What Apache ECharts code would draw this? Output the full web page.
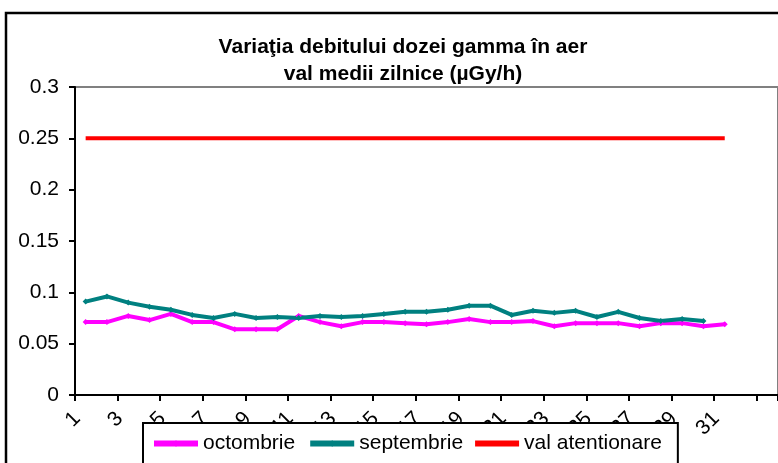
<!DOCTYPE html>
<html>
<head>
<meta charset="utf-8">
<script src="https://cdn.jsdelivr.net/npm/echarts@6/dist/echarts.min.js"></script>
<style>
	html, body { margin: 0; padding: 0; background: #fff; }
	#chart { width: 778px; height: 463px; }
</style>
</head>
<body>
<div id="chart"></div>
<script>
// zilele lunii (ultimele doua categorii sunt goale, ca in original)
var days = ['1', '2', '3', '4', '5', '6', '7', '8', '9', '10', '11', '12', '13', '14', '15', '16',
	'17', '18', '19', '20', '21', '22', '23', '24', '25', '26', '27', '28', '29', '30', '31', '', ''];

var octombrie = [0.071, 0.071, 0.077, 0.073, 0.079, 0.071, 0.071, 0.064, 0.064, 0.064,
	0.077, 0.071, 0.067, 0.071, 0.071, 0.070, 0.069, 0.071, 0.074, 0.071,
	0.071, 0.072, 0.067, 0.070, 0.070, 0.070, 0.067, 0.070, 0.070, 0.067, 0.069];

var septembrie = [0.091, 0.096, 0.090, 0.086, 0.083, 0.078, 0.075, 0.079, 0.075, 0.076,
	0.075, 0.077, 0.076, 0.077, 0.079, 0.081, 0.081, 0.083, 0.087, 0.087,
	0.078, 0.082, 0.080, 0.082, 0.076, 0.081, 0.075, 0.072, 0.074, 0.072];

var valAtentionare = [0.25, 0.25, 0.25, 0.25, 0.25, 0.25, 0.25, 0.25, 0.25, 0.25,
	0.25, 0.25, 0.25, 0.25, 0.25, 0.25, 0.25, 0.25, 0.25, 0.25,
	0.25, 0.25, 0.25, 0.25, 0.25, 0.25, 0.25, 0.25, 0.25, 0.25, 0.25];

var font = '"Liberation Sans", Arial, sans-serif';

var chart = echarts.init(document.getElementById('chart'));

var option = {
	animation: false,
	backgroundColor: '#fff',
	textStyle: { fontFamily: font },
	title: {
		text: 'Variaţia debitului dozei gamma în aer\nval medii zilnice (µGy/h)',
		left: 398,
		textAlign: 'center',
		top: 29,
		textStyle: {
			fontFamily: font,
			fontSize: 21,
			fontWeight: 'bold',
			color: '#000',
			lineHeight: 27
		}
	},
	graphic: [
		{
			type: 'rect',
			z: -10,
			shape: { x: 6, y: 13, width: 820, height: 520 },
			style: { fill: null, stroke: '#000', lineWidth: 2.5 }
		}
	],
	grid: {
		left: 75,
		top: 87,
		bottom: 68,
		right: -3,
		show: true,
		borderColor: '#808080',
		borderWidth: 2,
		backgroundColor: 'transparent'
	},
	legend: {
		left: 143,
		top: 423,
		orient: 'horizontal',
		backgroundColor: '#fff',
		borderColor: '#000',
		borderWidth: 2,
		borderRadius: 0,
		padding: [10, 16, 24, 8],
		itemWidth: 44,
		itemHeight: 8,
		itemGap: 12,
		lineStyle: { width: 6 },
		textStyle: { fontFamily: font, fontSize: 21, color: '#000' },
		data: [
			'octombrie',
			'septembrie',
			{ name: 'val atentionare', icon: 'path://M0,0H44V6H0Z' }
		]
	},
	xAxis: {
		type: 'category',
		data: days,
		boundaryGap: true,
		axisLine: { lineStyle: { color: '#000', width: 2 } },
		axisTick: { show: true, length: 6, lineStyle: { color: '#000', width: 2 } },
		axisLabel: {
			interval: 1,
			rotate: 45,
			margin: 12,
			padding: [0, 12, 0, 0],
			fontSize: 21,
			color: '#000',
			fontFamily: font
		},
		splitLine: { show: false }
	},
	yAxis: {
		type: 'value',
		min: 0,
		max: 0.3,
		interval: 0.05,
		axisLine: { show: true, lineStyle: { color: '#000', width: 2 } },
		axisTick: { show: true, length: 6, lineStyle: { color: '#000', width: 2 } },
		axisLabel: {
			fontSize: 21,
			color: '#000',
			margin: 16,
			fontFamily: font
		},
		splitLine: { show: false }
	},
	series: [
		{
			name: 'octombrie',
			type: 'line',
			data: octombrie,
			color: '#FF00FF',
			symbol: 'diamond',
			symbolSize: 6,
			lineStyle: { width: 4, color: '#FF00FF' },
			itemStyle: { color: '#FF00FF' }
		},
		{
			name: 'septembrie',
			type: 'line',
			data: septembrie,
			color: '#008080',
			symbol: 'diamond',
			symbolSize: 6,
			lineStyle: { width: 4, color: '#008080' },
			itemStyle: { color: '#008080' }
		},
		{
			name: 'val atentionare',
			type: 'line',
			data: valAtentionare,
			color: '#FF0000',
			symbol: 'none',
			lineStyle: { width: 4, color: '#FF0000' },
			itemStyle: { color: '#FF0000' }
		}
	]
};

chart.setOption(option);
</script>
</body>
</html>
